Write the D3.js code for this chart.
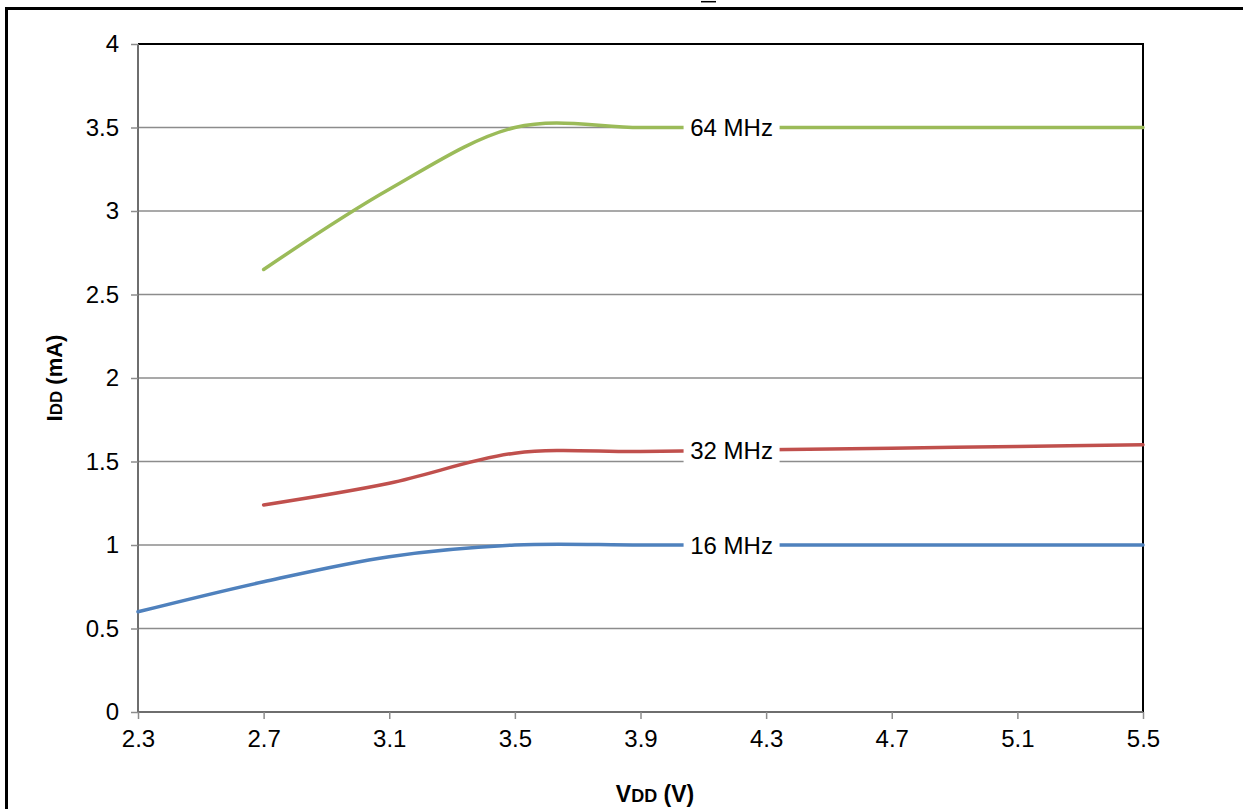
<!DOCTYPE html>
<html>
<head>
<meta charset="utf-8">
<script src="https://cdn.jsdelivr.net/npm/d3@7"></script>
<style>
  html, body { margin: 0; padding: 0; background: #fff; }
  svg { display: block; font-family: "Liberation Sans", Arial, sans-serif; }
</style>
</head>
<body>
<svg id="chart" width="1243" height="809"></svg>
<script>
// ---- data ----
const xTicks = [2.3, 2.7, 3.1, 3.5, 3.9, 4.3, 4.7, 5.1, 5.5];
const yTicks = [0, 0.5, 1, 1.5, 2, 2.5, 3, 3.5, 4];
const vdd16 = [2.3, 2.7, 3.1, 3.5, 3.9, 4.3, 4.7, 5.1, 5.5];
const idd16 = [0.60, 0.78, 0.93, 1.00, 1.00, 1.00, 1.00, 1.00, 1.00];
const vdd32 = [2.7, 3.1, 3.5, 3.9, 4.3, 4.7, 5.1, 5.5];
const idd32 = [1.24, 1.37, 1.55, 1.56, 1.57, 1.58, 1.59, 1.60];
const vdd64 = [2.7, 3.1, 3.5, 3.9, 4.3, 4.7, 5.1, 5.5];
const idd64 = [2.65, 3.13, 3.50, 3.50, 3.50, 3.50, 3.50, 3.50];
const seriesNames = ["16 MHz", "32 MHz", "64 MHz"];
const seriesColors = ["#4F81BD", "#C0504D", "#9BBB59"];
const labelX = 4.19;

const series = [
  { name: seriesNames[0], color: seriesColors[0], x: vdd16, y: idd16 },
  { name: seriesNames[1], color: seriesColors[1], x: vdd32, y: idd32 },
  { name: seriesNames[2], color: seriesColors[2], x: vdd64, y: idd64 }
];

const svg = d3.select("#chart");
const L = 138, R = 1143, T = 44, B = 712;
const x = d3.scaleLinear().domain([2.3, 5.5]).range([L, R]);
const y = d3.scaleLinear().domain([0, 4]).range([B, T]);

// outer frame (partly off-canvas)
svg.append("rect").attr("x", 6.5).attr("y", 8.5).attr("width", 1260).attr("height", 830)
  .attr("fill", "none").attr("stroke", "#000").attr("stroke-width", 3);
// cut-off title remnant (only the underline stroke is visible)
svg.append("line").attr("x1", 701).attr("x2", 716).attr("y1", 1.7).attr("y2", 1.7)
  .attr("stroke", "#000").attr("stroke-width", 1.5);

// gridlines
svg.append("g").selectAll("line").data(yTicks.filter(d => d > 0 && d < 4)).join("line")
  .attr("x1", L).attr("x2", R).attr("y1", d => y(d)).attr("y2", d => y(d))
  .attr("stroke", "#8c8c8c").attr("stroke-width", 1.5);

// plot frame top & right black
svg.append("line").attr("x1", L).attr("x2", R + 1).attr("y1", T).attr("y2", T)
  .attr("stroke", "#000").attr("stroke-width", 2);
svg.append("line").attr("x1", R).attr("x2", R).attr("y1", T).attr("y2", B)
  .attr("stroke", "#000").attr("stroke-width", 2);

// axes
const yAxis = d3.axisLeft(y).tickValues(yTicks).tickSize(7).tickPadding(12).tickFormat(d3.format("~g"));
const xAxis = d3.axisBottom(x).tickValues(xTicks).tickSize(7).tickPadding(11).tickFormat(d3.format(".1f"));

const gy = svg.append("g").attr("transform", `translate(${L},0)`).call(yAxis);
const gx = svg.append("g").attr("transform", `translate(0,${B})`).call(xAxis);
[gx, gy].forEach(g => {
  g.attr("font-size", 24).attr("font-family", "'Liberation Sans', Arial, sans-serif");
  g.select(".domain").attr("stroke", "#6e6e6e").attr("stroke-width", 2);
  g.selectAll(".tick line").attr("stroke", "#8c8c8c").attr("stroke-width", 1.5);
  g.selectAll(".tick text").attr("font-size", 24).attr("fill", "#000");
});
gx.select(".domain").attr("d", `M${L},0H${R}`);
gy.select(".domain").attr("d", `M0,${B}V${T}`);

// lines
const line = d3.line().x(d => x(d[0])).y(d => y(d[1])).curve(d3.curveCardinal.tension(0));
series.forEach(s => {
  const pts = s.x.map((v, i) => [v, s.y[i]]);
  svg.append("path").datum(pts).attr("d", line)
    .attr("fill", "none").attr("stroke", s.color).attr("stroke-width", 3.5)
    .attr("stroke-linecap", "round").attr("stroke-linejoin", "round");
});

// data labels
series.forEach(s => {
  const i = d3.bisectLeft(s.x, labelX);
  const t = (labelX - s.x[i - 1]) / (s.x[i] - s.x[i - 1]);
  const yv = s.y[i - 1] + t * (s.y[i] - s.y[i - 1]);
  const cx = x(labelX), cy = y(yv);
  svg.append("rect").attr("x", cx - 48).attr("y", cy - 15).attr("width", 96).attr("height", 30)
    .attr("fill", "#fff");
  svg.append("text").attr("x", cx).attr("y", cy).attr("dy", "0.36em")
    .attr("text-anchor", "middle").attr("font-size", 24).attr("fill", "#000").text(s.name);
});

// axis titles
const xt = svg.append("text").attr("x", 655).attr("y", 802).attr("text-anchor", "middle")
  .attr("font-weight", "bold").attr("font-size", 23).attr("fill", "#000");
xt.append("tspan").text("V");
xt.append("tspan").attr("font-size", 18).text("DD");
xt.append("tspan").text(" (V)");

const yt = svg.append("text").attr("transform", `translate(62,378) rotate(-90)`)
  .attr("text-anchor", "middle").attr("font-weight", "bold").attr("font-size", 22).attr("fill", "#000");
yt.append("tspan").text("I");
yt.append("tspan").attr("font-size", 17).text("DD");
yt.append("tspan").text(" (mA)");
</script>
</body>
</html>
